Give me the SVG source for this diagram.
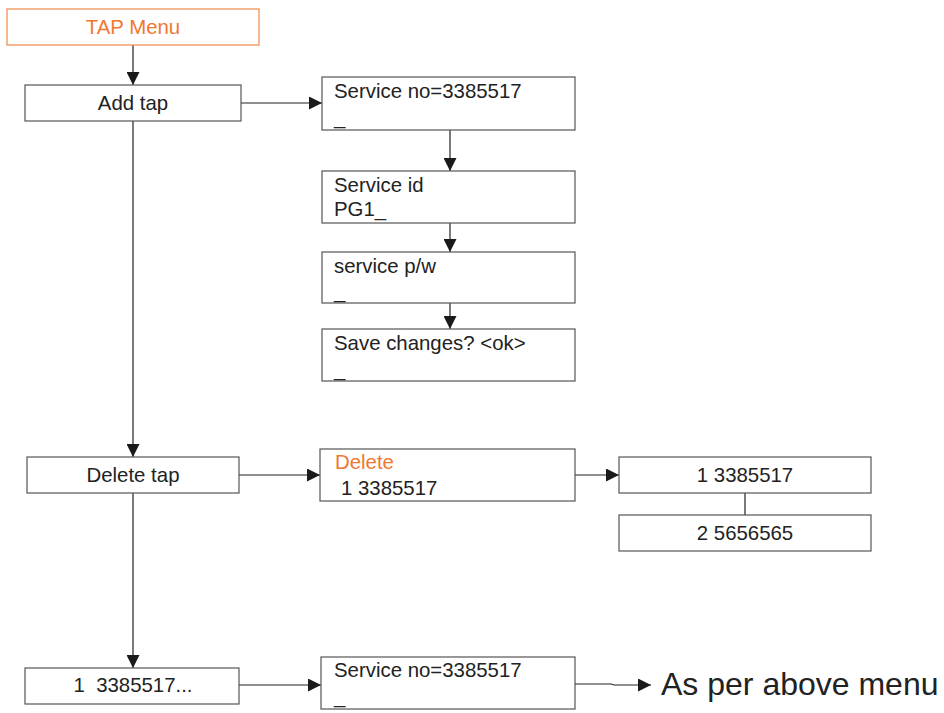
<svg xmlns="http://www.w3.org/2000/svg" width="944" height="713" viewBox="0 0 944 713">
<style>
.box{fill:#fff;stroke:#555;stroke-width:1.2}
.obox{fill:#fff;stroke:#F08848;stroke-width:1.2}
.t{font-family:"Liberation Sans",Arial,sans-serif;font-size:20.4px;fill:#222}
.c{text-anchor:middle}
.o{fill:#F07830}
.ln{stroke:#222;stroke-width:1.2;fill:none}
</style>
<defs>
<marker id="ah" viewBox="0 0 13 13" refX="13" refY="6.5" markerWidth="13" markerHeight="13" markerUnits="userSpaceOnUse" orient="auto">
<path d="M0,0 L13,6.5 L0,13 Z" fill="#1a1a1a"/>
</marker>
</defs>
<g id="connectors">
<line class="ln" x1="133" y1="45" x2="133" y2="85" marker-end="url(#ah)"/>
<line class="ln" x1="241" y1="103" x2="322" y2="103" marker-end="url(#ah)"/>
<line class="ln" x1="450" y1="130" x2="450" y2="171" marker-end="url(#ah)"/>
<line class="ln" x1="450" y1="223" x2="450" y2="252" marker-end="url(#ah)"/>
<line class="ln" x1="450" y1="303" x2="450" y2="329" marker-end="url(#ah)"/>
<line class="ln" x1="133" y1="121" x2="133" y2="457" marker-end="url(#ah)"/>
<line class="ln" x1="239" y1="475" x2="320" y2="475" marker-end="url(#ah)"/>
<line class="ln" x1="575" y1="475" x2="619" y2="475" marker-end="url(#ah)"/>
<line class="ln" x1="745" y1="493" x2="745" y2="515"/>
<line class="ln" x1="133" y1="493" x2="133" y2="668" marker-end="url(#ah)"/>
<line class="ln" x1="239" y1="685" x2="321" y2="685" marker-end="url(#ah)"/>
<path class="ln" d="M575,684 L611,684 L614,685 L651,685" marker-end="url(#ah)"/>
</g>
<g id="tap-menu">
<rect class="obox" x="7" y="9" width="252" height="36"/>
<text class="t c o" x="133" y="34">TAP Menu</text>
</g>
<g id="add-tap">
<rect class="box" x="25" y="85" width="216" height="36"/>
<text class="t c" x="133" y="110">Add tap</text>
</g>
<g id="service-no">
<rect class="box" x="322" y="77" width="253" height="53"/>
<text class="t" x="334" y="98">Service no=3385517</text>
<text class="t" x="334" y="124">_</text>
</g>
<g id="service-id">
<rect class="box" x="322" y="171" width="253" height="52"/>
<text class="t" x="334" y="192">Service id</text>
<text class="t" x="334" y="216">PG1_</text>
</g>
<g id="service-pw">
<rect class="box" x="322" y="252" width="253" height="51"/>
<text class="t" x="334" y="273">service p/w</text>
<text class="t" x="334" y="298">_</text>
</g>
<g id="save-changes">
<rect class="box" x="322" y="329" width="253" height="52"/>
<text class="t" x="334" y="350">Save changes? &lt;ok&gt;</text>
<text class="t" x="334" y="376">_</text>
</g>
<g id="delete-tap">
<rect class="box" x="27" y="457" width="212" height="36"/>
<text class="t c" x="133" y="482">Delete tap</text>
</g>
<g id="delete">
<rect class="box" x="320" y="449" width="255" height="52"/>
<text class="t o" x="335" y="469">Delete</text>
<text class="t" x="341" y="495">1 3385517</text>
</g>
<g id="item1">
<rect class="box" x="619" y="457" width="252" height="36"/>
<text class="t c" x="745" y="482">1 3385517</text>
</g>
<g id="item2">
<rect class="box" x="619" y="515" width="252" height="36"/>
<text class="t c" x="745" y="540">2 5656565</text>
</g>
<g id="entry">
<rect class="box" x="25" y="668" width="214" height="36"/>
<text class="t c" x="133" y="692" xml:space="preserve">1  3385517...</text>
</g>
<g id="service-no-2">
<rect class="box" x="321" y="657" width="254" height="52"/>
<text class="t" x="334" y="677">Service no=3385517</text>
<text class="t" x="334" y="703">_</text>
</g>
<g id="as-per">
<text class="t" x="661" y="695" style="font-size:32px">As per above menu</text>
</g>
</svg>
